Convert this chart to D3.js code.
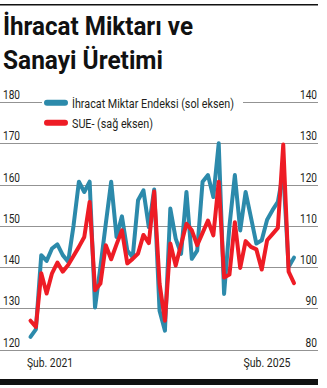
<!DOCTYPE html>
<html>
<head>
<meta charset="utf-8">
<script src="https://cdn.jsdelivr.net/npm/d3@7/dist/d3.min.js"></script>
<style>
  html, body { margin: 0; padding: 0; background: #fff; }
  svg { display: block; }
  text { font-family: "Roboto", "Liberation Sans", sans-serif; }
</style>
</head>
<body>
<svg id="chart" width="327" height="388"></svg>
<script>
// Monthly series, January 2021 to February 2025
const months = d3.timeMonth.range(new Date(2021, 0, 1), new Date(2025, 2, 1));

// İhracat miktar endeksi (left axis)
const exportIndex = [
  123.1, 124.9, 142.9, 141.5, 144.5, 145.5, 142.9, 141.3, 150.0, 160.7, 158.2, 160.7,
  130.2, 140.0, 150.5, 160.7, 147.3, 152.3, 144.0, 142.4, 156.2, 158.6, 149.7, 158.8,
  129.4, 124.6, 154.2, 146.9, 143.2, 158.2, 142.0, 144.0, 160.7, 162.3, 157.0, 170.0,
  133.5, 150.0, 162.3, 148.9, 158.2, 152.0, 145.7, 146.5, 151.5, 153.8, 155.8, 163.0,
  140.0, 142.3
];

// Sanayi üretim endeksi (right axis)
const industryIndex = [
  87.0, 85.5, 98.5, 93.6, 98.5, 101.1, 98.9, 100.5, 102.7, 104.9, 107.3, 115.8,
  94.4, 96.0, 105.3, 101.9, 105.5, 108.9, 100.9, 102.0, 103.3, 107.8, 105.8, 118.3,
  96.0, 87.0, 105.7, 100.4, 105.5, 110.5, 108.9, 105.3, 108.3, 111.3, 107.7, 120.7,
  97.5, 98.2, 110.9, 99.8, 106.3, 104.9, 104.3, 99.4, 106.5, 108.0, 109.5, 129.7,
  98.9, 96.1
];

const leftTicks = [120, 130, 140, 150, 160, 170, 180];
const rightTicks = [80, 90, 100, 110, 120, 130, 140];
const xTickLabels = ["Şub. 2021", "Şub. 2025"];
const legendLabels = ["İhracat Miktar Endeksi (sol eksen)", "SUE- (sağ eksen)"];
const titleLines = ["İhracat Miktarı ve", "Sanayi Üretimi"];

const colors = { exports: "#2c8aab", industry: "#ee1c25", grid: "#939393", text: "#231f20" };

const svg = d3.select("#chart");
const ruleRight = 318;

// condensed text: glyphs squeezed to a set run width
function narrowText(sel, width) {
  return sel.attr("textLength", width).attr("lengthAdjust", "spacingAndGlyphs");
}

// header rule and title
svg.append("rect").attr("x", 0).attr("y", 4).attr("width", ruleRight).attr("height", 1.5).attr("fill", "#111");
const titleWidths = [190, 160];
svg.append("g").selectAll("text").data(titleLines).join("text")
  .attr("x", 3)
  .attr("y", (d, i) => 35 + i * 33.5)
  .attr("font-size", 25)
  .attr("font-weight", 700)
  .attr("fill", "#111")
  .attr("textLength", (d, i) => titleWidths[i])
  .attr("lengthAdjust", "spacingAndGlyphs")
  .text(d => d);

// scales
const x = d3.scalePoint().domain(months.map(d => +d)).range([30.5, 294]);
const yL = d3.scaleLinear().domain([120, 180]).range([349.6, 102.1]);
const yR = d3.scaleLinear().domain([80, 140]).range([349.6, 102.1]);

// gridlines with axis labels on both sides
svg.append("g").selectAll("line").data(leftTicks).join("line")
  .attr("x1", 0).attr("x2", ruleRight)
  .attr("y1", d => Math.round(yL(d)) + 0.5).attr("y2", d => Math.round(yL(d)) + 0.5)
  .attr("stroke", colors.grid).attr("stroke-width", 1);

svg.append("g").selectAll("text").data(leftTicks).join("text")
  .attr("x", 3).attr("y", d => yL(d) - 3)
  .attr("font-size", 13.5).attr("fill", colors.text)
  .call(narrowText, 17)
  .text(d => d);

svg.append("g").selectAll("text").data(rightTicks).join("text")
  .attr("x", 300).attr("y", d => yR(d) - 3)
  .attr("font-size", 13.5).attr("fill", colors.text)
  .call(narrowText, d => (String(d).length === 2 ? 11.5 : 17))
  .attr("x", d => (String(d).length === 2 ? 305.5 : 300))
  .text(d => d);

// legend, on a white panel over the top gridline
const legend = svg.append("g");
legend.append("rect").attr("x", 42).attr("y", 92).attr("width", 201).attr("height", 38).attr("fill", "#fff");
const legendItems = [
  { label: legendLabels[0], color: colors.exports, y: 102.7, width: 162 },
  { label: legendLabels[1], color: colors.industry, y: 122.7, width: 81 }
];
legendItems.forEach(item => {
  legend.append("line")
    .attr("x1", 47).attr("x2", 65).attr("y1", item.y).attr("y2", item.y)
    .attr("stroke", item.color).attr("stroke-width", 6).attr("stroke-linecap", "round");
  legend.append("text")
    .attr("x", 72).attr("y", item.y + 5)
    .attr("font-size", 13.5).attr("fill", colors.text)
    .call(narrowText, item.width)
    .text(item.label);
});

// series lines
const exportLine = d3.line().x((d, i) => x(+months[i])).y(d => yL(d));
const industryLine = d3.line().x((d, i) => x(+months[i])).y(d => yR(d));

svg.append("path").datum(exportIndex)
  .attr("d", exportLine)
  .attr("fill", "none").attr("stroke", colors.exports)
  .attr("stroke-width", 4).attr("stroke-linejoin", "round").attr("stroke-linecap", "round");

svg.append("path").datum(industryIndex)
  .attr("d", industryLine)
  .attr("fill", "none").attr("stroke", colors.industry)
  .attr("stroke-width", 4).attr("stroke-linejoin", "round").attr("stroke-linecap", "round");

// x labels: first aligned to the opening month, last to the closing month
svg.append("text")
  .attr("x", x(+months[0]) - 3.5).attr("y", 367)
  .attr("font-size", 13.5).attr("fill", colors.text)
  .call(narrowText, 46)
  .text(xTickLabels[0]);
svg.append("text")
  .attr("x", x(+months[months.length - 1]) - 3.5 - 47).attr("y", 367)
  .attr("font-size", 13.5).attr("fill", colors.text)
  .call(narrowText, 47)
  .text(xTickLabels[1]);

// footer bar
svg.append("rect").attr("x", 0).attr("y", 379).attr("width", ruleRight).attr("height", 6).attr("fill", "#111");
</script>
</body>
</html>
